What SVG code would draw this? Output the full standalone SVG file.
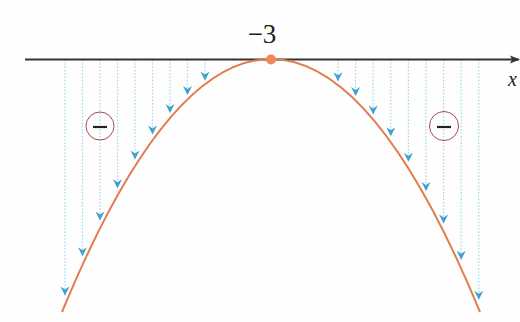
<svg xmlns="http://www.w3.org/2000/svg" width="520" height="322" viewBox="0 0 520 322">
<style>
.drop{stroke:#9dd6ee;stroke-width:1.2;stroke-dasharray:1.5 1.8;fill:none;marker-end:url(#ah)}
.sign{fill:none;stroke:#a04a5a;stroke-width:1}
.minus{stroke:#222;stroke-width:2.2}
.lbl{font-family:"Liberation Serif",serif;fill:#222}
</style>
<defs>
<marker id="ah" viewBox="-10 -5 11 10" refX="0" refY="0" markerWidth="11" markerHeight="10" markerUnits="userSpaceOnUse" orient="auto">
<path d="M0,0 L-9,-4.5 L-6,0 L-9,4.5 Z" fill="#3e9fd0"/>
</marker>
<marker id="axh" viewBox="0 -5 10 10" refX="9" refY="0" markerWidth="10" markerHeight="10" markerUnits="userSpaceOnUse" orient="auto">
<path d="M0,-4 L10,0 L0,4 L2,0 Z" fill="#333"/>
</marker>
</defs>
<rect width="520" height="322" fill="#fefefe"/>
<g id="connectors">
<line class="drop" x1="205" y1="60" x2="205" y2="80.5"/>
<line class="drop" x1="187.5" y1="60" x2="187.5" y2="95"/>
<line class="drop" x1="170" y1="60" x2="170" y2="113"/>
<line class="drop" x1="152.5" y1="60" x2="152.5" y2="134.5"/>
<line class="drop" x1="135" y1="60" x2="135" y2="159.6"/>
<line class="drop" x1="117.5" y1="60" x2="117.5" y2="188.3"/>
<line class="drop" x1="100" y1="60" x2="100" y2="220.5"/>
<line class="drop" x1="82.5" y1="60" x2="82.5" y2="256.2"/>
<line class="drop" x1="65" y1="60" x2="65" y2="295.4"/>
<line class="drop" x1="338" y1="60" x2="338" y2="81.3"/>
<line class="drop" x1="355.6" y1="60" x2="355.6" y2="96.1"/>
<line class="drop" x1="373.2" y1="60" x2="373.2" y2="114.4"/>
<line class="drop" x1="390.8" y1="60" x2="390.8" y2="136.2"/>
<line class="drop" x1="408.4" y1="60" x2="408.4" y2="161.7"/>
<line class="drop" x1="426" y1="60" x2="426" y2="190.9"/>
<line class="drop" x1="443.6" y1="60" x2="443.6" y2="223.5"/>
<line class="drop" x1="461.2" y1="60" x2="461.2" y2="259.8"/>
<line class="drop" x1="478.8" y1="60" x2="478.8" y2="299.7"/>
</g>
<g id="axis">
<line x1="25" y1="59.5" x2="519" y2="59.5" stroke="#333" stroke-width="2" marker-end="url(#axh)"/>
<text class="lbl" x="508" y="86" font-size="20" font-style="italic">x</text>
</g>
<g id="parabola">
<path d="M62,312 Q271,-194 480,312" fill="none" stroke="#e27b4e" stroke-width="2"/>
</g>
<g id="vertex">
<circle cx="271" cy="59.5" r="5" fill="#f0875a"/>
<text class="lbl" x="262" y="43" font-size="27" text-anchor="middle">−3</text>
</g>
<g id="sign-left">
<circle class="sign" cx="100" cy="126" r="14"/>
<line class="minus" x1="93" y1="127" x2="107" y2="127"/>
</g>
<g id="sign-right">
<circle class="sign" cx="444" cy="126" r="14.5"/>
<line class="minus" x1="437" y1="127" x2="451" y2="127"/>
</g>
</svg>
